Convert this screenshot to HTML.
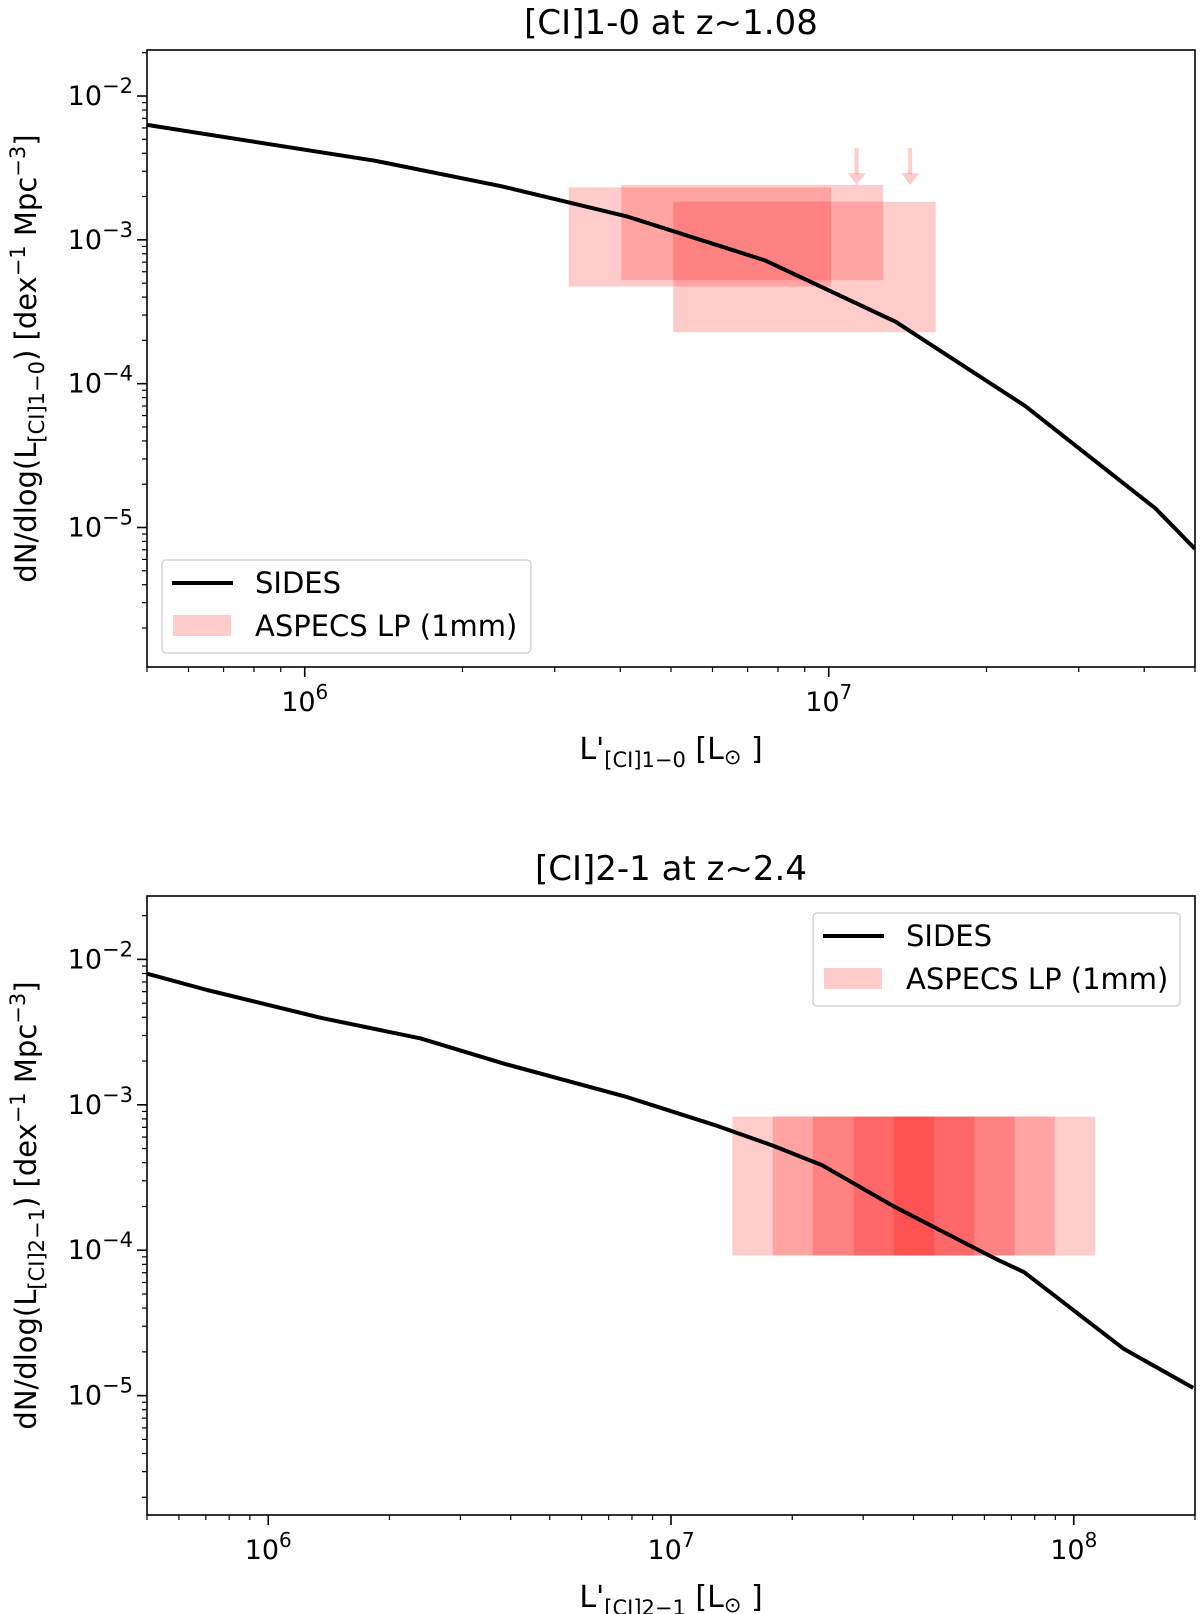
<!DOCTYPE html>
<html><head><meta charset="utf-8">
<style>
html,body{margin:0;padding:0;background:#fff;}
svg{display:block;font-family:"DejaVu Sans","Liberation Sans",sans-serif;}
</style></head>
<body>
<svg id="fig" width="1200" height="1614" viewBox="0 0 1200 1614" xmlns="http://www.w3.org/2000/svg"></svg>
<script>
// ---- Panel 1 data ([CI]1-0) ----
const p1SidesL = [5e5, 1.36e6, 2.37e6, 4.13e6, 7.56e6, 1.34e7, 2.37e7, 4.2e7, 5e7];
const p1SidesPhi = [6.3e-3, 3.55e-3, 2.36e-3, 1.45e-3, 7.2e-4, 2.7e-4, 7.0e-5, 1.36e-5, 7.1e-6];
const p1BoxLo = [3.19e6, 4.02e6, 5.05e6];
const p1BoxHi = [1.01e7, 1.27e7, 1.6e7];
const p1BoxPhiLo = [4.74e-4, 5.24e-4, 2.28e-4];
const p1BoxPhiHi = [2.32e-3, 2.41e-3, 1.84e-3];
const p1ArrowL = [1.13e7, 1.43e7];
const p1ArrowPhi = [2.4e-3, 2.4e-3];
const p1XTicks = [6, 7];
const p1YTicks = [-2, -3, -4, -5];
// ---- Panel 2 data ([CI]2-1) ----
const p2SidesL = [5e5, 7.05e5, 1.36e6, 2.39e6, 3.87e6, 7.78e6, 1.31e7, 1.79e7, 2.37e7, 3.59e7, 6.33e7, 7.53e7, 1.33e8, 1.98e8];
const p2SidesPhi = [7.97e-3, 6.16e-3, 3.95e-3, 2.86e-3, 1.91e-3, 1.13e-3, 7.13e-4, 5.24e-4, 3.85e-4, 1.99e-4, 8.86e-5, 7.06e-5, 2.1e-5, 1.13e-5];
const p2BoxLo = [1.42e7, 1.79e7, 2.25e7, 2.84e7, 3.57e7];
const p2BoxHi = [4.5e7, 5.66e7, 7.13e7, 8.97e7, 1.13e8];
const p2BoxPhiLo = [9.2e-5, 9.2e-5, 9.2e-5, 9.2e-5, 9.2e-5];
const p2BoxPhiHi = [8.3e-4, 8.3e-4, 8.3e-4, 8.3e-4, 8.3e-4];
const p2XTicks = [6, 7, 8];
const p2YTicks = [-2, -3, -4, -5];

const NS = "http://www.w3.org/2000/svg";
const svg = document.getElementById('fig');
function mk(tag, attrs, parent){
  const e = document.createElementNS(NS, tag);
  for (const k in attrs) e.setAttribute(k, attrs[k]);
  (parent||svg).appendChild(e);
  return e;
}

function panel(cfg){
  const {x0,x1,y0,y1,lx0,lx1,ly0,ly1} = cfg;
  const X = v => x0 + (Math.log10(v)-lx0)/(lx1-lx0)*(x1-x0);
  const Y = v => y1 - (Math.log10(v)-ly0)/(ly1-ly0)*(y1-y0);
  const g = mk('g', {});
  
  
  for (let i=0;i<cfg.boxLo.length;i++){
    const r = mk('rect', {x:X(cfg.boxLo[i]), y:Y(cfg.boxPhiHi[i]), width:X(cfg.boxHi[i])-X(cfg.boxLo[i]), height:Y(cfg.boxPhiLo[i])-Y(cfg.boxPhiHi[i]), fill:'#ff0000', 'fill-opacity':0.2}, g);
    
    
  }
  for (let i=0;i<(cfg.arrowL||[]).length;i++){
    const ax = X(cfg.arrowL[i]), ay = Y(cfg.arrowPhi[i]);
    const a = mk('g', {fill:'#ff0000','fill-opacity':0.2, stroke:'none'}, g);
    
    
    mk('rect', {x:ax-2, y:ay-37, width:4, height:26}, a);
    mk('polygon', {points:`${ax-9},${ay-12} ${ax+9},${ay-12} ${ax},${ay}`}, a);
  }
  const pts = cfg.sidesL.map((v,i)=>X(v).toFixed(1)+','+Y(cfg.sidesPhi[i]).toFixed(1)).join(' ');
  const cp = mk('clipPath', {id:'clip'+cfg.name}, g);
  mk('rect', {x:x0,y:y0,width:x1-x0,height:y1-y0}, cp);
  const pl = mk('polyline', {points:pts, fill:'none', stroke:'#000', 'stroke-width':4, 'stroke-linejoin':'round', 'clip-path':`url(#clip${cfg.name})`}, g);
  
  
  const fr = mk('rect', {x:x0,y:y0,width:x1-x0,height:y1-y0, fill:'none', stroke:'#000','stroke-width':1.6}, g);
  
  
  for (let d=Math.floor(lx0); d<=Math.ceil(lx1); d++){
    for (let m=1;m<10;m++){
      const lv = d+Math.log10(m);
      if (lv<lx0-1e-6||lv>lx1+1e-6) continue;
      const px = X(Math.pow(10,lv));
      mk('line',{x1:px,x2:px,y1:y1,y2:y1+(m===1?10:5),stroke:'#000','stroke-width':m===1?1.6:1.2}, g);
    }
  }
  cfg.xTicks.forEach(d=>{
    const t = mk('text',{x:X(Math.pow(10,d)),y:y1+44,'font-size':27,'text-anchor':'middle'}, g);
    
    
    t.innerHTML = `10<tspan dy="-12" font-size="20">${d}</tspan>`;
  });
  for (let d=Math.floor(ly0); d<=Math.ceil(ly1); d++){
    for (let m=1;m<10;m++){
      const lv = d+Math.log10(m);
      if (lv<ly0-1e-6||lv>ly1+1e-6) continue;
      const py = Y(Math.pow(10,lv));
      mk('line',{x1:x0-(m===1?10:5),x2:x0,y1:py,y2:py,stroke:'#000','stroke-width':m===1?1.6:1.2}, g);
    }
  }
  cfg.yTicks.forEach(d=>{
    const t = mk('text',{x:x0-14,y:Y(Math.pow(10,d))+9,'font-size':27,'text-anchor':'end'}, g);
    
    
    t.innerHTML = `10<tspan dy="-12" font-size="21">\u2212${-d}</tspan>`;
  });
  const tt = mk('text',{x:(x0+x1)/2,y:y0-16,'font-size':34,'text-anchor':'middle'}, g);
  
  
  tt.textContent = cfg.title;
  const xl = mk('text',{x:(x0+x1)/2,y:y1+92,'font-size':30,'text-anchor':'middle'}, g);
  
  
  xl.innerHTML = `L'<tspan dy="8" font-size="21">[CI]${cfg.sub}</tspan><tspan dy="-8"> [L</tspan><tspan dy="5" font-size="21">\u2299</tspan><tspan dy="-5"> ]</tspan>`;
  const yc = (y0+y1)/2;
  const yl = mk('text',{x:0,y:0,'font-size':29,'text-anchor':'middle',transform:`translate(36,${yc}) rotate(-90)`}, g);
  
  
  yl.innerHTML = `dN/dlog(L<tspan dy="8" font-size="21">[CI]${cfg.sub}</tspan><tspan dy="-8">) [dex</tspan><tspan dy="-11" font-size="21">\u22121</tspan><tspan dy="11"> Mpc</tspan><tspan dy="-11" font-size="21">\u22123</tspan><tspan dy="11">]</tspan>`;
  const L = cfg.leg;
  const lg = mk('g',{}, g);
  
  
  mk('rect',{x:L.x,y:L.y,width:L.w,height:L.h,rx:4,fill:'#fff','fill-opacity':0.8,stroke:'#ccc','stroke-width':1.2}, lg);
  const e1 = mk('g',{}, lg);
  
  
  mk('line',{x1:L.x+10,x2:L.x+71,y1:L.y+23,y2:L.y+23,stroke:'#000','stroke-width':4}, e1);
  const t1 = mk('text',{x:L.x+93,y:L.y+33,'font-size':29}, e1); t1.textContent='SIDES';
  const e2 = mk('g',{}, lg);
  
  
  mk('rect',{x:L.x+11,y:L.y+55,width:58,height:21,fill:'#ff0000','fill-opacity':0.2}, e2);
  const t2 = mk('text',{x:L.x+93,y:L.y+76,'font-size':29}, e2); t2.textContent='ASPECS LP (1mm)';
}

panel({name:'panel-ci10', x0:147,x1:1195,y0:50,y1:667, lx0:Math.log10(5e5), lx1:Math.log10(5e7), ly0:-5.97, ly1:-1.68,
  sidesL:p1SidesL, sidesPhi:p1SidesPhi, boxLo:p1BoxLo, boxHi:p1BoxHi, boxPhiLo:p1BoxPhiLo, boxPhiHi:p1BoxPhiHi,
  arrowL:p1ArrowL, arrowPhi:p1ArrowPhi, xTicks:p1XTicks, yTicks:p1YTicks,
  title:'[CI]1-0 at z~1.08', sub:'1\u22120', leg:{x:162,y:560,w:369,h:93}});
panel({name:'panel-ci21', x0:147,x1:1195,y0:896,y1:1515, lx0:Math.log10(5e5), lx1:Math.log10(2e8), ly0:-5.821, ly1:-1.564,
  sidesL:p2SidesL, sidesPhi:p2SidesPhi, boxLo:p2BoxLo, boxHi:p2BoxHi, boxPhiLo:p2BoxPhiLo, boxPhiHi:p2BoxPhiHi,
  xTicks:p2XTicks, yTicks:p2YTicks,
  title:'[CI]2-1 at z~2.4', sub:'2\u22121', leg:{x:813,y:913,w:367,h:93}});
</script>
</body></html>
